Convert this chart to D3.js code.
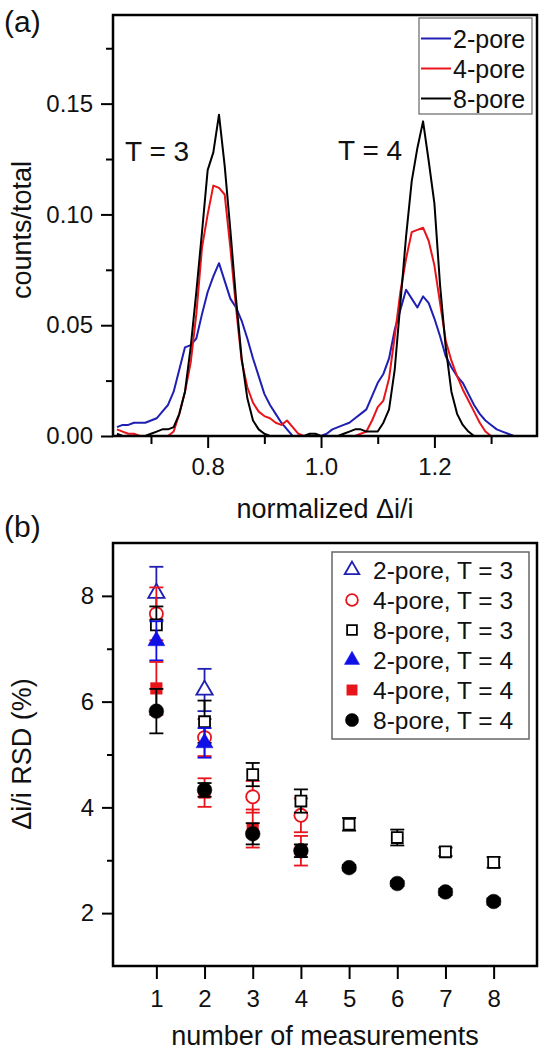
<!DOCTYPE html>
<html><head><meta charset="utf-8">
<script src="https://cdn.jsdelivr.net/npm/d3@7"></script>
<style>body{margin:0;background:#fff} svg{display:block} text{font-family:Arial,"Liberation Sans",sans-serif;fill:#111}</style>
</head><body><svg id="c" width="545" height="1050"></svg>
<script>
// ---------- Panel (a) data ----------
const binCenters = [0.64,0.65,0.66,0.67,0.68,0.69,0.70,0.71,0.72,0.73,0.74,0.75,0.76,0.77,0.78,0.79,0.80,0.81,0.82,0.83,0.84,0.85,0.86,0.87,0.88,0.89,0.90,0.91,0.92,0.93,0.94,0.95,0.96,0.97,0.98,0.99,
1.00,1.01,1.02,1.03,1.04,1.05,1.06,1.07,1.08,1.09,1.10,1.11,1.12,1.13,1.14,1.15,1.16,1.17,1.18,1.19,1.20,1.21,1.22,1.23,1.24,1.25,1.26,1.27,1.28,1.29,1.30,1.31,1.32,1.33,1.34,1.35,1.36,1.37];
const pore2 = [.004,.005,.005,.006,.006,.006,.007,.008,.011,.014,.020,.030,.040,.041,.044,.055,.065,.072,.078,.070,.062,.058,.052,.044,.035,.027,.019,.014,.010,.006,.003,0,0,0,0,0,
0,.001,.003,.004,.005,.006,.008,.010,.012,.018,.024,.028,.035,.048,.057,.066,.062,.058,.063,.060,.053,.045,.036,.031,.027,.024,.019,.014,.010,.007,.005,.003,.002,.001,0,0,0,0];
const pore4 = [.003,.002,.001,.001,0,0,0,0,0,0,.002,.010,.020,.033,.055,.085,.100,.113,.112,.109,.085,.058,.034,.022,.015,.011,.009,.008,.006,.005,.007,.004,.001,0,0,0,
0,0,0,0,0,0,0,.001,.002,.007,.013,.016,.026,.045,.065,.080,.092,.093,.094,.088,.077,.060,.043,.034,.027,.021,.016,.011,.006,.002,0,0,0,0,0,0,0,0];
const pore8 = [.001,0,0,0,0,0,.001,.002,.003,.003,.004,.010,.020,.040,.065,.092,.120,.128,.145,.122,.093,.062,.035,.017,.007,.003,.001,0,0,0,0,0,0,0,.001,.001,
0,0,0,0,.001,.002,.003,.003,.002,.002,.002,.006,.012,.030,.060,.090,.115,.130,.142,.124,.105,.068,.040,.020,.010,.005,.002,0,0,0,0,0,0,0,0,0];
const seriesA = ["2-pore","4-pore","8-pore"];
const yTicksA = [0, 0.05, 0.10, 0.15];
const yMinorA = [0.025, 0.075, 0.125, 0.175];
const xTicksA = [0.8, 1.0, 1.2];
const xMinorA = [0.7, 0.9, 1.1, 1.3];

// ---------- Panel (b) data ----------
const measurements = [1,2,3,4,5,6,7,8];
const p2T3 = [8.05, 6.22];              const p2T3err = [0.50, 0.40];
const p4T3 = [7.66, 5.32, 4.20, 3.85];  const p4T3err = [0.50, 0.35, 0.30, 0.32];
const p8T3 = [7.45, 5.62, 4.62, 4.12, 3.68, 3.43, 3.16, 2.96];
const p8T3err = [0.35, 0.40, 0.22, 0.22, 0.12, 0.15, 0.08, 0.10];
const p2T4 = [7.15, 5.22];              const p2T4err = [0.37, 0.28];
const p4T4 = [6.25, 4.28, 3.60, 3.18];  const p4T4err = [0.50, 0.27, 0.36, 0.28];
const p8T4 = [5.82, 4.33, 3.50, 3.18, 2.86, 2.56, 2.40, 2.22];
const p8T4err = [0.42, 0.13, 0.20, 0.12, 0.05, 0.05, 0.06, 0.06];
const seriesB = ["2-pore, T = 3","4-pore, T = 3","8-pore, T = 3","2-pore, T = 4","4-pore, T = 4","8-pore, T = 4"];
const yTicksB = [2,4,6,8];
const yMinorB = [3,5,7];

const svg = d3.select("#c");
const BLUE = "#1f1fb4", RED = "#e8141c", BLACK = "#000";
const FONT_TICK = 24, FONT_TITLE = 27;

// ======== Panel (a) ========
const L = 113, R = 537;
const xa = d3.scaleLinear().domain([0.633, 1.381]).range([L, R]);
const ya = d3.scaleLinear().domain([0, 0.19]).range([436, 15]);
const ga = svg.append("g");
ga.append("defs").append("clipPath").attr("id","clipA").append("rect")
  .attr("x",L).attr("y",15).attr("width",R-L).attr("height",421);

const line = d3.line().x((d,i)=>xa(binCenters[i])).y(d=>ya(d));
[[pore2,BLUE],[pore4,RED],[pore8,BLACK]].forEach(([s,c])=>{
  ga.append("path").attr("d", line(s)).attr("fill","none").attr("stroke",c)
    .attr("stroke-width",2).attr("stroke-linejoin","round").attr("clip-path","url(#clipA)");
});

function styleAxis(g){
  g.select(".domain").remove();
  g.selectAll(".tick line").attr("stroke","#000").attr("stroke-width",2);
  g.selectAll(".tick text").style("font-size",FONT_TICK+"px").attr("fill","#111");
}
ga.append("g").attr("transform",`translate(${L},0)`)
  .call(d3.axisLeft(ya).tickValues(yTicksA).tickSize(12).tickPadding(8).tickFormat(d3.format(".2f"))).call(styleAxis);
ga.append("g").attr("transform",`translate(${L},0)`)
  .call(d3.axisLeft(ya).tickValues(yMinorA).tickSize(7).tickFormat("")).call(styleAxis);
ga.append("g").attr("transform","translate(0,436)")
  .call(d3.axisBottom(xa).tickValues(xTicksA).tickSize(12).tickPadding(10).tickFormat(d3.format(".1f"))).call(styleAxis);
ga.append("g").attr("transform","translate(0,436)")
  .call(d3.axisBottom(xa).tickValues(xMinorA).tickSize(8).tickFormat("")).call(styleAxis);
ga.append("rect").attr("x",L).attr("y",15).attr("width",R-L).attr("height",421)
  .attr("fill","none").attr("stroke","#000").attr("stroke-width",2.5);

ga.append("text").attr("x",4).attr("y",32).style("font-size","30px").text("(a)");
ga.append("text").attr("transform","translate(31,230) rotate(-90)").attr("text-anchor","middle")
  .style("font-size",FONT_TITLE+"px").text("counts/total");
ga.append("text").attr("x",L+(R-L)/2).attr("y",518).attr("text-anchor","middle")
  .style("font-size",FONT_TITLE+"px").text("normalized \u0394i/i");
ga.append("text").attr("x",125).attr("y",161).style("font-size","28px").text("T = 3");
ga.append("text").attr("x",338).attr("y",160).style("font-size","28px").text("T = 4");

// legend (a)
const lga = ga.append("g");
lga.append("rect").attr("x",419).attr("y",18).attr("width",113).attr("height",96)
  .attr("fill","#fff").attr("stroke","#666").attr("stroke-width",1.2);
[BLUE,RED,BLACK].forEach((c,i)=>{
  const yy = 38.5 + i*30;
  lga.append("line").attr("x1",421).attr("x2",451).attr("y1",yy).attr("y2",yy).attr("stroke",c).attr("stroke-width",2);
  lga.append("text").attr("x",453).attr("y",yy).attr("dy","0.36em").style("font-size","25px").text(seriesA[i]);
});

// ======== Panel (b) ========
const xb = d3.scaleLinear().domain([0.1, 8.9]).range([L, R]);
const yb = d3.scaleLinear().domain([1, 9]).range([966, 543]);
const gb = svg.append("g");

const specs = [
  {v:p2T3, e:p2T3err, c:BLUE, type:d3.symbolTriangle, size:115, fill:false},
  {v:p4T3, e:p4T3err, c:RED, type:d3.symbolCircle, size:135, fill:false},
  {v:p8T3, e:p8T3err, c:BLACK, type:d3.symbolSquare, size:120, fill:false},
  {v:p2T4, e:p2T4err, c:"#1010e6", type:d3.symbolTriangle, size:125, fill:true},
  {v:p4T4, e:p4T4err, c:RED, type:d3.symbolSquare, size:135, fill:true},
  {v:p8T4, e:p8T4err, c:BLACK, type:d3.symbolCircle, size:170, fill:true}
];
specs.forEach(s=>{
  const g = gb.append("g");
  s.v.forEach((val,i)=>{
    const x = xb(measurements[i]), y0 = yb(val - s.e[i]), y1 = yb(val + s.e[i]);
    g.append("line").attr("x1",x).attr("x2",x).attr("y1",y0).attr("y2",y1).attr("stroke",s.c).attr("stroke-width",1.8);
    [y0,y1].forEach(yy=>g.append("line").attr("x1",x-7).attr("x2",x+7).attr("y1",yy).attr("y2",yy).attr("stroke",s.c).attr("stroke-width",1.8));
  });
  s.v.forEach((val,i)=>{
    g.append("path").attr("d", d3.symbol().type(s.type).size(s.size)())
      .attr("transform",`translate(${xb(measurements[i])},${yb(val)})`)
      .attr("fill", s.fill ? s.c : "#fff").attr("stroke", s.c).attr("stroke-width", s.fill?0.5:1.8);
  });
});

gb.append("g").attr("transform",`translate(${L},0)`)
  .call(d3.axisLeft(yb).tickValues(yTicksB).tickSize(11).tickPadding(8).tickFormat(d3.format("d"))).call(styleAxis);
gb.append("g").attr("transform",`translate(${L},0)`)
  .call(d3.axisLeft(yb).tickValues(yMinorB).tickSize(6).tickFormat("")).call(styleAxis);
gb.append("g").attr("transform","translate(0,966)")
  .call(d3.axisBottom(xb).tickValues(measurements).tickSize(13).tickPadding(11).tickFormat(d3.format("d"))).call(styleAxis);
gb.append("rect").attr("x",L).attr("y",543).attr("width",R-L).attr("height",423)
  .attr("fill","none").attr("stroke","#000").attr("stroke-width",2.5);

gb.append("text").attr("x",4).attr("y",537).style("font-size","30px").text("(b)");
gb.append("text").attr("transform","translate(31,754) rotate(-90)").attr("text-anchor","middle")
  .style("font-size",FONT_TITLE+"px").text("\u0394i/i RSD (%)");
gb.append("text").attr("x",L+(R-L)/2).attr("y",1045).attr("text-anchor","middle")
  .style("font-size",FONT_TITLE+"px").text("number of measurements");

// legend (b)
const lgb = gb.append("g");
lgb.append("rect").attr("x",332).attr("y",552).attr("width",197).attr("height",187)
  .attr("fill","#fff").attr("stroke","#666").attr("stroke-width",1.5);
specs.forEach((s,i)=>{
  const yy = 570 + i*30;
  lgb.append("path").attr("d", d3.symbol().type(s.type).size(s.size*0.8)())
    .attr("transform",`translate(352,${yy})`)
    .attr("fill", s.fill ? s.c : "#fff").attr("stroke", s.c).attr("stroke-width", s.fill?0.5:1.8);
  lgb.append("text").attr("x",373).attr("y",yy).attr("dy","0.36em").style("font-size","24.5px").text(seriesB[i]);
});
</script></body></html>
